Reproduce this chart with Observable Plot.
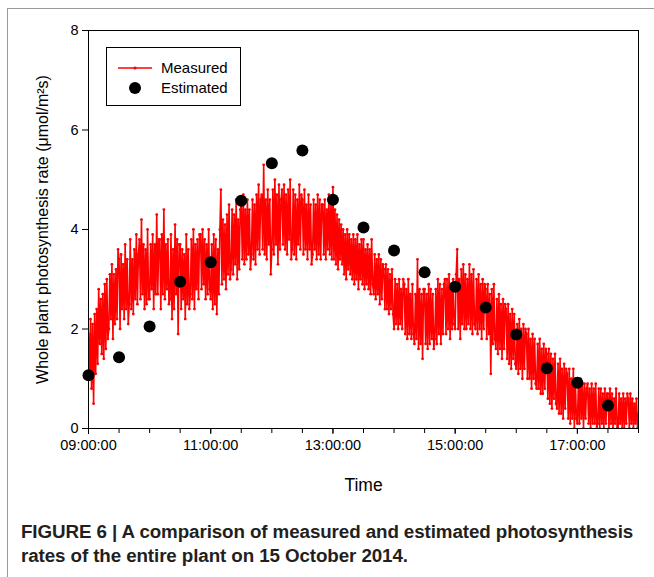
<!DOCTYPE html>
<html>
<head>
<meta charset="utf-8">
<script src="https://cdn.jsdelivr.net/npm/d3@7"></script>
<script src="https://cdn.jsdelivr.net/npm/@observablehq/plot@0.6"></script>
<style>
  body { margin: 0; background: #fff; font-family: "Liberation Sans", Arial, sans-serif; }
  #wrap { position: relative; width: 654px; height: 577px; overflow: hidden; background: #fff; }
  #frame { position: absolute; left: 7px; top: 8px; width: 700px; height: 620px; border-top: 1.5px solid #9a9a9a; border-left: 1.5px solid #9a9a9a; }
  #chart { position: absolute; left: 0; top: 0; }
  #legend { position: absolute; left: 106px; top: 47px; width: 133px; height: 57px; border: 1px solid #000; background: #fff; }
  #legend svg { position: absolute; left: 0; top: 0; }
  #legend .lab { position: absolute; left: 54px; font-size: 15px; color: #000; white-space: nowrap; }
  #caption { position: absolute; left: 21px; top: 520px; font-weight: bold; font-size: 18.8px; line-height: 24px; color: #231f20; white-space: nowrap; letter-spacing: -0.1px; }
</style>
</head>
<body>
<div id="wrap">
  <div id="frame"></div>
  <div id="chart"></div>
  <div id="legend">
    <svg width="133" height="57">
      <line x1="11" y1="20" x2="45" y2="20" stroke="#f00" stroke-width="1.4"></line>
      <circle cx="28" cy="20" r="1.6" fill="#f00"></circle>
      <circle cx="28" cy="40" r="6" fill="#000"></circle>
    </svg>
    <div class="lab" style="top:11px">Measured</div>
    <div class="lab" style="top:31px">Estimated</div>
  </div>
  <div id="caption">FIGURE 6 | A comparison of measured and estimated photosynthesis<br>rates of the entire plant on 15 October 2014.</div>
</div>
<script>
// Measured series: one reading per minute from 09:00 to 18:00
const measuredStartHour = 9;
const measuredStepMinutes = 1;
const measuredValues = [
  1.9, 1.0, 2.2, 0.8, 2.1, 0.5, 2.3, 1.1, 2.4, 1.3,
  2.8, 1.7, 2.6, 1.5, 2.7, 1.4, 2.9, 1.6, 3.0, 1.8,
  2.0, 3.1, 2.2, 3.3, 1.8, 3.1, 2.1, 3.2, 2.2, 3.6,
  3.4, 2.0, 3.5, 2.4, 3.3, 2.2, 3.7, 2.4, 3.4, 2.1,
  2.5, 3.8, 2.4, 3.4, 2.3, 3.6, 2.6, 3.9, 2.5, 3.5,
  3.8, 2.6, 4.2, 2.7, 3.7, 2.4, 3.6, 2.5, 4.0, 2.6,
  2.6, 3.7, 2.8, 3.9, 2.4, 3.7, 2.7, 4.3, 2.7, 3.8,
  3.8, 2.4, 3.9, 2.7, 4.4, 2.6, 3.7, 2.8, 3.8, 2.5,
  2.6, 3.9, 2.2, 3.6, 2.4, 4.1, 2.7, 3.8, 1.9, 3.7,
  3.7, 2.4, 3.6, 2.6, 3.5, 2.2, 3.9, 2.5, 3.6, 2.4,
  2.7, 3.8, 2.6, 4.0, 2.4, 3.7, 2.8, 3.8, 2.6, 3.9,
  3.9, 2.8, 4.0, 2.9, 3.8, 2.6, 3.7, 2.7, 4.0, 2.8,
  2.6, 3.7, 2.4, 3.9, 2.5, 3.8, 2.3, 3.6, 2.7, 4.0,
  4.8, 2.9, 4.2, 3.0, 4.1, 2.8, 4.3, 3.1, 4.5, 3.0,
  3.2, 4.4, 3.1, 4.3, 3.3, 4.6, 3.0, 4.2, 3.2, 4.4,
  4.5, 3.4, 4.7, 3.3, 4.4, 3.4, 4.6, 3.5, 4.4, 3.2,
  3.5, 4.6, 3.4, 4.5, 3.3, 4.7, 3.6, 4.9, 3.5, 4.6,
  4.7, 3.6, 5.3, 3.5, 4.6, 3.4, 4.8, 3.7, 4.6, 3.1,
  3.6, 4.8, 3.5, 5.0, 3.7, 4.7, 3.3, 4.9, 3.6, 4.6,
  4.8, 3.7, 4.9, 3.6, 4.7, 3.5, 4.8, 3.8, 5.0, 3.4,
  3.6, 4.8, 3.5, 4.7, 3.4, 4.6, 3.7, 4.9, 3.6, 4.7,
  4.6, 3.5, 4.8, 3.6, 4.5, 3.4, 4.7, 3.6, 4.5, 3.3,
  3.5, 4.6, 3.6, 4.5, 3.4, 4.7, 3.5, 4.6, 3.4, 4.5,
  4.5, 3.5, 4.6, 3.4, 4.4, 3.6, 4.7, 3.5, 4.5, 3.4,
  4.85, 3.4, 4.4, 3.3, 4.3, 3.2, 4.2, 3.4, 4.1, 3.3,
  4.0, 3.1, 3.9, 3.0, 4.0, 3.2, 3.9, 3.1, 3.8, 3.0,
  3.9, 2.9, 3.8, 3.0, 3.9, 2.8, 3.7, 3.0, 3.8, 2.9,
  3.8, 2.8, 3.6, 2.9, 3.7, 2.8, 3.6, 2.7, 3.8, 2.9,
  2.7, 3.5, 2.6, 3.4, 2.7, 3.5, 2.5, 3.4, 2.6, 3.3,
  3.2, 2.4, 3.3, 2.4, 3.2, 2.3, 3.1, 2.4, 3.2, 2.3,
  2.0, 3.0, 2.1, 2.9, 2.0, 3.0, 2.1, 2.8, 2.0, 3.0,
  2.9, 1.9, 2.8, 1.8, 3.0, 1.9, 2.7, 1.8, 2.9, 1.9,
  1.7, 2.7, 1.8, 3.4, 1.6, 2.8, 1.7, 2.7, 1.4, 2.8,
  2.8, 1.7, 2.7, 1.6, 2.9, 1.7, 2.8, 1.8, 2.7, 1.6,
  1.8, 2.8, 1.7, 3.0, 1.9, 2.9, 1.7, 2.8, 1.9, 2.9,
  3.0, 1.9, 3.0, 2.0, 3.1, 1.8, 2.9, 2.0, 3.0, 2.1,
  2.0, 3.1, 3.6, 2.0, 3.0, 1.8, 3.2, 2.1, 3.3, 2.0,
  3.1, 2.0, 3.0, 2.1, 3.3, 2.0, 3.1, 1.9, 3.2, 2.1,
  2.0, 3.0, 1.9, 3.1, 2.0, 2.9, 1.8, 3.0, 2.0, 2.9,
  2.8, 1.8, 2.9, 1.9, 2.7, 1.1, 2.8, 1.7, 2.9, 1.8,
  1.6, 2.6, 1.5, 2.7, 1.6, 2.5, 1.4, 2.6, 1.6, 2.5,
  2.4, 1.4, 2.5, 1.3, 2.3, 1.2, 2.4, 1.4, 2.3, 1.3,
  1.2, 2.1, 1.1, 2.2, 1.2, 2.0, 1.0, 2.1, 1.2, 2.0,
  1.9, 1.0, 2.0, 1.0, 1.8, 0.8, 1.9, 1.0, 1.8, 0.9,
  0.8, 1.7, 0.8, 1.8, 0.7, 1.6, 0.7, 1.7, 0.8, 1.6,
  1.5, 0.6, 1.6, 0.5, 1.5, 0.4, 1.4, 0.6, 1.5, 0.5,
  0.4, 1.3, 0.3, 1.4, 0.3, 1.2, 0.2, 1.3, 0.4, 1.2,
  1.1, 0.2, 1.2, 0.1, 1.0, 0.2, 1.2, 0.0, 1.0, 0.2,
  0.1, 0.9, 0.1, 1.0, 0.2, 0.9, 0.0, 0.9, 0.2, 0.8,
  0.9, 0.1, 0.8, 0.0, 0.9, 0.1, 0.8, 0.1, 0.9, 0.0,
  0.1, 0.8, 0.0, 0.8, 0.1, 0.7, 0.0, 0.8, 0.1, 0.7,
  0.7, 0.0, 0.8, 0.1, 0.7, 0.0, 0.6, 0.1, 0.8, 0.0,
  0.0, 0.7, 0.1, 0.6, 0.0, 0.7, 0.0, 0.6, 0.1, 0.7,
  0.6, 0.0, 0.7, 0.1, 0.6, 0.0, 0.5, 0.1, 0.6, 0.0,
  0.3
];

// Estimated series: every 30 minutes
const estimatedHours = [9, 9.5, 10, 10.5, 11, 11.5, 12, 12.5, 13, 13.5, 14, 14.5, 15, 15.5, 16, 16.5, 17, 17.5];
const estimatedValues = [1.07, 1.43, 2.05, 2.95, 3.34, 4.58, 5.33, 5.59, 4.60, 4.04, 3.58, 3.14, 2.85, 2.43, 1.89, 1.21, 0.92, 0.46];

// Axis ticks
const xMajorTicks = [9, 11, 13, 15, 17];
const xMajorLabels = ["09:00:00", "11:00:00", "13:00:00", "15:00:00", "17:00:00"];
const xMinorTicks = [9, 9.5, 10, 10.5, 11, 11.5, 12, 12.5, 13, 13.5, 14, 14.5, 15, 15.5, 16, 16.5, 17, 17.5, 18];
const yTicks = [0, 2, 4, 6, 8];
const yLabel = "Whole plant photosynthesis rate (\u03bcmol/m\u00b2s)";
const xLabel = "Time";

const measured = measuredValues.map((v, i) => ({ t: measuredStartHour + (i * measuredStepMinutes) / 60, v }));
const estimated = estimatedHours.map((t, i) => ({ t, v: estimatedValues[i] }));

const chart = Plot.plot({
  width: 654,
  height: 500,
  marginLeft: 88,
  marginRight: 16,
  marginTop: 30,
  marginBottom: 72,
  style: { fontFamily: "'Liberation Sans', Arial, sans-serif", fontSize: "14.5px", color: "#000", background: "transparent" },
  x: { domain: [9, 18] },
  y: { domain: [0, 8] },
  marks: [
    Plot.line(measured, { x: "t", y: "v", stroke: "#f00", strokeWidth: 1.6, clip: true }),
    Plot.dot(measured, { x: "t", y: "v", r: 1.4, fill: "#f00", stroke: "none", clip: true }),
    Plot.dot(estimated, { x: "t", y: "v", r: 6, fill: "#000", stroke: "none" }),
    Plot.frame({ stroke: "#000", strokeWidth: 1 }),
    Plot.axisY({ ticks: yTicks, tickSize: 6, tickPadding: 4, label: null, stroke: "#000" }),
    Plot.axisX({ ticks: xMinorTicks, tickSize: 5, tickFormat: () => "", label: null }),
    Plot.axisX({ ticks: xMajorTicks, tickSize: 6, tickPadding: 5, tickFormat: (d) => xMajorLabels[xMajorTicks.indexOf(d)], label: null }),
    Plot.text([yLabel], { frameAnchor: "left", dx: -46, rotate: -90, textAnchor: "middle", fontSize: 16, fill: "#000" }),
    Plot.text([xLabel], { frameAnchor: "bottom", dy: 62, fontSize: 17.5, fill: "#000" })
  ]
});
document.getElementById("chart").appendChild(chart);
</script>
</body>
</html>
